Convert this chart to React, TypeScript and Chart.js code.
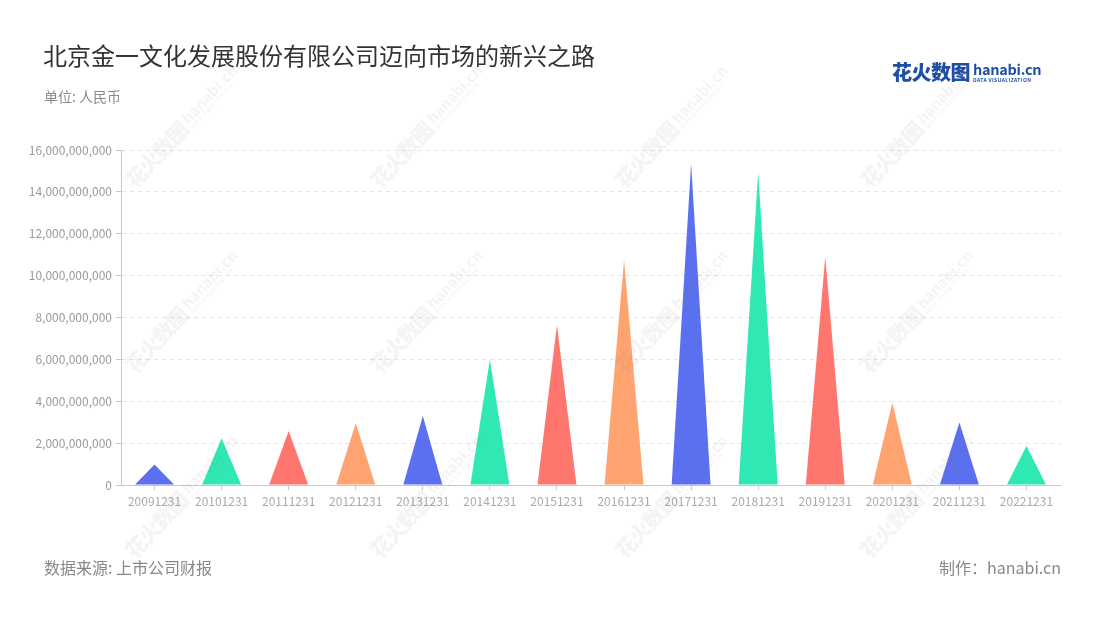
import React, { useEffect, useRef } from "react";
import { Chart, registerables } from "chart.js";

Chart.register(...registerables);

const FONT = '"Noto Sans CJK SC", "Noto Sans", sans-serif';

const categories = [
  "20091231", "20101231", "20111231", "20121231", "20131231", "20141231", "20151231",
  "20161231", "20171231", "20181231", "20191231", "20201231", "20211231", "20221231",
];
const revenue = [
  0.98e9, 2.23e9, 2.58e9, 2.95e9, 3.3e9, 6.0e9, 7.64e9,
  10.75e9, 15.36e9, 14.96e9, 10.9e9, 3.93e9, 2.98e9, 1.86e9,
];
const palette = ["#5A70EE", "#30E8B4", "#FF766F", "#FFA370"];
const yMin = 0;
const yMax = 16e9;
const yStep = 2e9;

const watermarkCols = [183, 428, 673, 918];
const watermarkRows = [125, 310, 495];

const trianglePlugin = {
  id: "triangles",
  afterDatasetsDraw(chart: any) {
    const ctx = chart.ctx;
    chart.data.datasets.forEach((ds: any, di: number) => {
      const meta = chart.getDatasetMeta(di);
      meta.data.forEach((el: any, i: number) => {
        const { x, y, base, width } = el.getProps(["x", "y", "base", "width"], true);
        ctx.save();
        ctx.fillStyle = palette[i % palette.length];
        ctx.beginPath();
        ctx.moveTo(x - width / 2, base);
        ctx.lineTo(x, y);
        ctx.lineTo(x + width / 2, base);
        ctx.closePath();
        ctx.fill();
        ctx.restore();
      });
    });
  },
};

function Watermark({ x, y }: { x: number; y: number }) {
  return (
    <div
      style={{
        position: "absolute",
        left: x - 80,
        top: y - 14,
        width: 160,
        height: 28,
        transform: "rotate(-47deg)",
        color: "rgba(120,120,120,0.08)",
        fontFamily: FONT,
        display: "flex",
        alignItems: "center",
        whiteSpace: "nowrap",
        pointerEvents: "none",
      }}
    >
      <span style={{ fontSize: 21, fontWeight: 900, letterSpacing: -1 }}>花火数图</span>
      <span style={{ display: "inline-flex", flexDirection: "column", marginLeft: 4, lineHeight: 1 }}>
        <span style={{ fontSize: 15, fontWeight: 700 }}>hanabi.cn</span>
        <span style={{ fontSize: 5, fontWeight: 700, letterSpacing: 0.5 }}>DATA VISUALIZATION</span>
      </span>
    </div>
  );
}

export default function App() {
  const canvasRef = useRef<HTMLCanvasElement | null>(null);

  useEffect(() => {
    if (!canvasRef.current) return;
    Chart.defaults.font.family = FONT;
    const chart = new Chart(canvasRef.current, {
      type: "bar",
      data: {
        labels: categories,
        datasets: [
          {
            data: revenue,
            backgroundColor: "rgba(0,0,0,0)",
            borderWidth: 0,
            categoryPercentage: 1,
            barPercentage: 0.58,
          },
        ],
      },
      options: {
        responsive: false,
        animation: false,
        devicePixelRatio: 1,
        layout: { padding: { left: 0, top: 150, right: 40, bottom: 105 } },
        plugins: {
          legend: { display: false },
          tooltip: { enabled: false },
          title: { display: false },
        },
        scales: {
          x: {
            offset: true,
            afterFit: (s: any) => {
              s.height = 30;
            },
            grid: {
              display: true,
              drawOnChartArea: false,
              drawTicks: true,
              tickLength: 5,
              tickColor: "#c8c8c8",
              offset: false,
            },
            border: { display: true, color: "#c8c8c8", width: 1 },
            ticks: {
              color: "#aaaaaa",
              font: { size: 12, family: FONT },
              padding: 4,
              maxRotation: 0,
              autoSkip: false,
            },
          },
          y: {
            min: yMin,
            max: yMax,
            afterFit: (s: any) => {
              s.width = 121;
            },
            grid: {
              color: "#e3e3e3",
              lineWidth: 1,
              drawTicks: true,
              tickLength: 5,
              tickColor: "#c8c8c8",
            },
            border: { display: true, color: "#c8c8c8", width: 1, dash: [4, 4] },
            ticks: {
              stepSize: yStep,
              color: "#9a9a9a",
              font: { size: 12, family: FONT },
              padding: 4,
              callback: (v: any) => Number(v).toLocaleString("en-US"),
            },
          },
        },
      },
      plugins: [trianglePlugin],
    } as any);
    return () => chart.destroy();
  }, []);

  return (
    <div
      style={{
        position: "absolute",
        left: 0,
        top: 0,
        width: 1100,
        height: 620,
        background: "#ffffff",
        overflow: "hidden",
        fontFamily: FONT,
      }}
    >
      <canvas
        ref={canvasRef}
        width={1100}
        height={620}
        style={{ position: "absolute", left: 0, top: 0, width: 1100, height: 620 }}
      />
      <div
        style={{
          position: "absolute",
          left: 43,
          top: 39,
          fontSize: 24,
          color: "#333333",
          lineHeight: "32px",
          whiteSpace: "nowrap",
        }}
      >
        北京金一文化发展股份有限公司迈向市场的新兴之路
      </div>
      <div
        style={{
          position: "absolute",
          left: 44,
          top: 85,
          fontSize: 14,
          color: "#8a8a8a",
          lineHeight: "22px",
        }}
      >
        单位: 人民币
      </div>
      <div
        style={{
          position: "absolute",
          left: 892,
          top: 59,
          display: "flex",
          alignItems: "center",
          whiteSpace: "nowrap",
        }}
      >
        <span style={{ fontSize: 20, fontWeight: 900, color: "#1f4fa3", letterSpacing: -0.5, lineHeight: "26px" }}>
          花火数图
        </span>
        <span style={{ display: "inline-flex", flexDirection: "column", marginLeft: 3, lineHeight: 1 }}>
          <span style={{ fontSize: 14.5, fontWeight: 700, color: "#1f4fa3", letterSpacing: -0.3 }}>hanabi.cn</span>
          <span style={{ fontSize: 5, fontWeight: 700, color: "#1f4fa3", letterSpacing: 0.4, marginTop: 1 }}>
            DATA VISUALIZATION
          </span>
        </span>
      </div>
      <div
        style={{
          position: "absolute",
          left: 44,
          top: 555,
          fontSize: 16,
          color: "#888888",
          lineHeight: "24px",
          whiteSpace: "nowrap",
        }}
      >
        数据来源: 上市公司财报
      </div>
      <div
        style={{
          position: "absolute",
          right: 39,
          top: 555,
          fontSize: 16,
          color: "#888888",
          lineHeight: "24px",
          whiteSpace: "nowrap",
        }}
      >
        制作：hanabi.cn
      </div>
      {watermarkRows.map((wy) =>
        watermarkCols.map((wx) => <Watermark key={`${wx}-${wy}`} x={wx} y={wy} />)
      )}
    </div>
  );
}
